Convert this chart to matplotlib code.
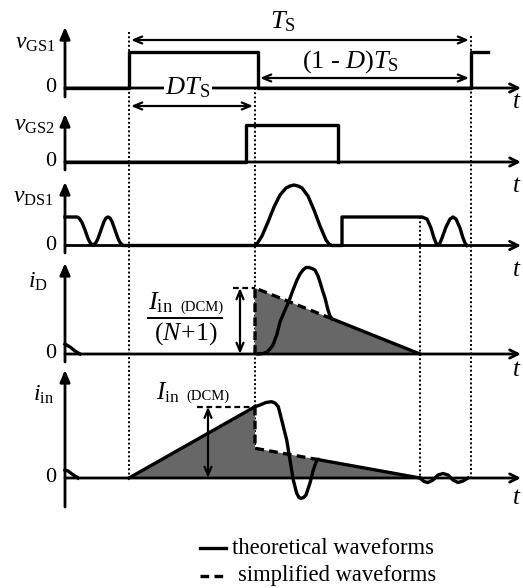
import matplotlib.pyplot as plt

plt.rcParams['font.family'] = 'Liberation Serif'
plt.rcParams['mathtext.fontset'] = 'custom'
plt.rcParams['mathtext.rm'] = 'Liberation Serif'
plt.rcParams['mathtext.it'] = 'Liberation Serif:italic'
plt.rcParams['mathtext.bf'] = 'Liberation Serif:bold'

W, H = 523, 588
T0 = 65  # horizontal position of the vertical axes

# zero level of every trace (pixels from the top)
bases = [88, 162, 245.5, 354, 478]

# switching instants on the common time axis
t_on, t_D, t_3, t_S, t_end = 64, 190, 355, 406, 456

# gate signals
gs1_t = [0, 64, 64, 193, 193, 406, 406, 423]
gs1_v = [0, 0, 36, 36, 0, 0, 36, 36]
gs2_t = [0, 181, 181, 273, 273]
gs2_v = [0, 0, 37, 37, 0]

# drain-source voltage of S1
ds1_t = [0, 12, 14, 17, 20, 23, 25, 28, 31, 33, 36, 39, 41, 43, 45, 47, 50, 53, 55, 58, 62,
         191, 197, 203, 209, 215, 221, 225, 229, 233, 237, 243, 249, 255, 261, 264, 267,
         277, 277, 357, 362, 366, 369, 371, 373, 375, 377, 381, 385, 388, 391, 395, 398, 400, 402]
ds1_v = [28.5, 28.5, 27.5, 23, 15.5, 7, 3, 0, 3, 7, 15.5, 24, 27.5, 28.5, 27.5, 24, 15.5, 7, 3, 0, 0,
         0, 9.5, 23.5, 38.5, 50.5, 57.5, 59.5, 60.5, 59.5, 57.5, 49.5, 35.5, 19.5, 5.5, 1.5, 0,
         0, 28.5, 28.5, 26.5, 17.5, 7.5, 2.5, 0, 2.5, 7.5, 18.5, 26.5, 28.5, 26.5, 17.5, 7.5, 2.5, 0]

# diode current
id_pk = 66
id_knee_t, id_knee_v = 267, 35.2
id_start_t = [0, 5, 10, 15]
id_start_v = [10, 7, 3, 0]
id_t = [193, 198, 202, 205, 208, 212, 215, 220, 224, 228, 232, 235, 238, 241, 244, 247,
        250, 253, 255, 258, 260, 263, 265, 267]
id_v = [0, 0.5, 2, 5, 9, 20, 32, 44, 53, 64, 74, 80, 84, 86.5, 86.5, 85.5,
        84, 78, 72, 62, 56, 44, 38, 35.2]

# input current
in_pk = 71.3
in_low = 29.7
in_knee_t, in_knee_v = 253, 18.4
in_start_t = [0, 3, 7, 13]
in_start_v = [8, 7, 4, 0]
in_t = [190, 195, 201, 206.7, 210, 213.3, 216.7, 221.7, 225, 228.3, 231.7, 234, 236,
        238.5, 241, 245, 248.3, 251.7, 253]
in_v = [71.3, 73, 75.5, 76.3, 75, 71.3, 58, 38, 18, -2, -15.3, -19.5, -20.3,
        -19.5, -17, -5, 8, 18, 18.4]
ring_t = [355, 359, 363, 368, 373, 378, 383, 388, 393, 398, 403]
ring_v = [0, -3.5, -4.5, -2, 3, 4.5, 3, -2, -4.5, -3, 0]

# vertical axis extent of each trace (top arrow tip, bottom end)
ax_top = [61, 48, 63.5, 91, 108]
ax_bot = [-9, -8, -7.5, -8, -29]
ylabels = [r'$v_{\mathrm{GS1}}$', r'$v_{\mathrm{GS2}}$', r'$v_{\mathrm{DS1}}$',
           r'$i_{\mathrm{D}}$', r'$i_{\mathrm{in}}$']
ylabel_pos = [(35, 43), (35, 125), (33, 198), (38, 282), (44, 395)]
t_label_y = [102, 186, 270, 370, 498]

LW = 2.4
DASH = (0, (2.6, 1.6))
GREY = '#676767'

fig = plt.figure(figsize=(W / 100, H / 100), dpi=100)

# layout layer in pixel rows, shares the time axis
lay = fig.add_axes([0, 0, 1, 1])
lay.set_xlim(-T0, W - T0)
lay.set_ylim(H, 0)
lay.axis('off')

axs = []
for b in bases:
    a = fig.add_axes([0, 0, 1, 1])
    a.set_xlim(-T0, W - T0)
    a.set_ylim(b - H, b)
    a.axis('off')
    axs.append(a)

# dotted instants
for t, y0 in [(t_on, 32), (t_D, 88), (t_3, 217), (t_S, 36)]:
    lay.plot([t, t], [y0, bases[-1]], color='k', lw=1.4, ls=(0, (1, 1.2)))

for i, a in enumerate(axs):
    a.annotate('', xy=(0, ax_top[i]), xytext=(0, ax_bot[i]),
               arrowprops=dict(arrowstyle='-|>,head_length=0.7,head_width=0.3',
                               color='k', lw=2, shrinkA=0, shrinkB=0))
    a.annotate('', xy=(t_end, 0), xytext=(0, 0),
               arrowprops=dict(arrowstyle='->,head_length=0.6,head_width=0.3',
                               color='k', lw=2, shrinkA=0, shrinkB=0))
    lay.text(-T0 + ylabel_pos[i][0], ylabel_pos[i][1], ylabels[i], fontsize=17,
             ha='center', va='center')
    lay.text(-14, bases[i], '0', fontsize=16, ha='center', va='center')
    lay.text(452, t_label_y[i], r'$t$', fontsize=18, ha='center', va='center')

# gate signals
axs[0].plot(gs1_t, gs1_v, color='k', lw=LW)
axs[1].plot(gs2_t, gs2_v, color='k', lw=LW)

dim = dict(arrowstyle='<->,head_length=0.6,head_width=0.25', color='k', lw=1.6,
           shrinkA=0, shrinkB=0)
axs[0].annotate('', xy=(t_on + 2, 48), xytext=(t_S - 2, 48), arrowprops=dim)
axs[0].annotate('', xy=(195, 10), xytext=(t_S - 2, 10), arrowprops=dim)
axs[0].annotate('', xy=(t_on + 2, -18), xytext=(t_D - 2, -18), arrowprops=dim)
axs[0].text(218, 66, r'$T_{\mathrm{S}}$', fontsize=19, ha='center', va='center')
axs[0].text(286, 26, r'$(1\ \text{-}\ D)T_{\mathrm{S}}$', fontsize=19, ha='center', va='center')
axs[0].text(123, 0, r'$DT_{\mathrm{S}}$', fontsize=19, ha='center', va='center',
            bbox=dict(facecolor='white', edgecolor='none', pad=1), zorder=5)

# drain-source voltage
axs[2].plot(ds1_t, ds1_v, color='k', lw=LW)

# diode current
a = axs[3]
a.fill([t_D, t_D, t_3], [0, id_pk, 0], color=GREY, lw=0)
a.plot([t_D, t_D, id_knee_t], [0, id_pk, id_knee_v], color='k', lw=LW, ls=DASH)
a.plot([id_knee_t, t_3], [id_knee_v, 0], color='k', lw=LW)
a.plot(id_t, id_v, color='k', lw=LW)
a.plot(id_start_t, id_start_v, color='k', lw=LW)
a.plot([168, t_D], [id_pk, id_pk], color='k', lw=1.6, ls=DASH)
a.annotate('', xy=(175, id_pk), xytext=(175, 0), arrowprops=dim)
lay.text(148 - T0, 303, r'$I_{\mathrm{in}}$', fontsize=19, ha='left', va='center')
lay.text(180 - T0, 307, '(DCM)', fontsize=10.5, ha='left', va='center')
lay.plot([148 - T0, 222 - T0], [318, 318], color='k', lw=1.4)
lay.text(186 - T0, 334, r'$(N\!+\!1)$', fontsize=18.5, ha='center', va='center')

# input current
a = axs[4]
a.fill([t_on, t_D, t_D, t_3], [0, in_pk, in_low, 0], color=GREY, lw=0)
a.plot([t_on, t_D], [0, in_pk], color='k', lw=LW)
a.plot([t_D, t_D, in_knee_t], [in_pk, in_low, in_knee_v], color='k', lw=LW, ls=DASH)
a.plot([in_knee_t, t_3], [in_knee_v, 0], color='k', lw=LW)
a.plot(in_t, in_v, color='k', lw=LW)
a.plot(in_start_t, in_start_v, color='k', lw=LW)
a.plot(ring_t, ring_v, color='k', lw=LW)
a.plot([132, t_D], [in_pk, in_pk], color='k', lw=1.6, ls=DASH)
a.annotate('', xy=(143, in_pk), xytext=(143, 0), arrowprops=dim)
lay.text(156 - T0, 393, r'$I_{\mathrm{in}}$', fontsize=18, ha='left', va='center')
lay.text(186 - T0, 396, '(DCM)', fontsize=10.5, ha='left', va='center')

# legend
lay.plot([200 - T0, 226 - T0], [548, 548], color='k', lw=LW)
lay.plot([200 - T0, 228 - T0], [576, 576], color='k', lw=LW, ls=DASH)
lay.text(232 - T0, 548, 'theoretical waveforms', fontsize=16.3, ha='left', va='center')
lay.text(238 - T0, 576, 'simplified waveforms', fontsize=16.3, ha='left', va='center')

fig.savefig('out.png', dpi=100, facecolor='white')
